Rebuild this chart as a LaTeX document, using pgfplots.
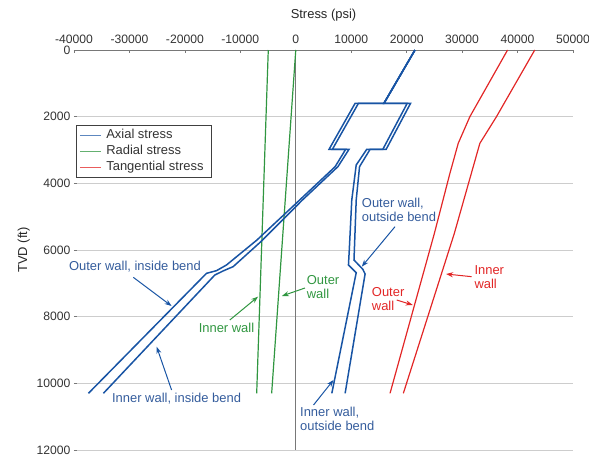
\documentclass[border=0pt]{standalone}
\usepackage{pgfplots}
\pgfplotsset{compat=1.18}
\usepackage{fontspec}
\setmainfont{Liberation Sans}
\usetikzlibrary{arrows.meta}

\definecolor{axblue}{RGB}{24,84,164}
\definecolor{txblue}{RGB}{52,92,156}
\definecolor{radgreen}{RGB}{48,150,64}
\definecolor{tangred}{RGB}{226,38,38}
\definecolor{axisgray}{RGB}{120,120,120}
\definecolor{gridgray}{RGB}{205,205,205}

\newcommand{\lbl}{\fontsize{13}{14}\selectfont}
\newcommand{\tck}{\fontsize{12.2}{14}\selectfont}

\begin{document}
\begin{tikzpicture}
\begin{axis}[
    scale only axis,
    width=499bp, height=400bp,
    xmin=-40000, xmax=50000,
    ymin=0, ymax=12000,
    y dir=reverse,
    clip=false,
    xtick={-40000,-30000,-20000,-10000,0,10000,20000,30000,40000,50000},
    ytick={0,2000,4000,6000,8000,10000,12000},
    scaled x ticks=false, scaled y ticks=false,
    /pgf/number format/1000 sep={},
    /pgf/number format/assume math mode=true,
    xticklabel pos=right, xtick pos=right, ytick pos=left,
    axis line style={draw=none},
    ymajorgrids,
    grid style={gridgray, line width=0.6bp},
    major tick length=3bp,
    tick style={axisgray, line width=0.6bp},
    tick label style={font=\tck, text=black!80},
    xticklabel style={yshift=3bp},
    xlabel={Stress (psi)}, ylabel={TVD (ft)},
    label style={font=\lbl, text=black!85},
    xlabel style={yshift=7bp},
    legend style={at={(axis cs:-39600,2250)}, anchor=north west,
        draw=black!75, line width=0.6bp, font=\lbl, text=black!80,
        inner xsep=3bp, inner ysep=2.5bp, row sep=1.5bp,
        nodes={text height=9.5bp, text depth=3bp, inner ysep=1bp, inner xsep=5bp}},
    legend cell align=left,
    legend image code/.code={\draw[#1, line width=0.8bp] (0bp,0bp) -- (21bp,0bp);},
]

\draw[axisgray, line width=0.7bp] (axis cs:-40000,0) -- (axis cs:50000,0);
\draw[axisgray, line width=0.7bp] (axis cs:0,0) -- (axis cs:0,12000);

\addlegendimage{axblue!70}
\addlegendentry{Axial stress}
\addlegendimage{radgreen!75}
\addlegendentry{Radial stress}
\addlegendimage{tangred!75}
\addlegendentry{Tangential stress}

% radial stress
\addplot[forget plot, radgreen, line width=1.2bp] coordinates {(-4960,0) (-7050,10300)};
\addplot[forget plot, radgreen, line width=1.2bp] coordinates {(0,0) (-4350,10300)};

% tangential stress
\addplot[forget plot, tangred, line width=1.2bp] coordinates {
(38200,0) (31400,2000) (29300,2800) (27800,3700) (25000,5500) (17000,10300)};
\addplot[forget plot, tangred, line width=1.2bp] coordinates {
(43100,0) (36200,2000) (33200,2800) (28600,5500) (19400,10300)};

% axial stress: outer wall, inside bend
\addplot[forget plot, axblue, line width=1.5bp] coordinates {
(21500,0) (15900,1600) (10700,1600) (6000,2980) (9000,2980) (7100,3500)
(700,4500) (-7000,5700) (-12500,6450) (-14300,6620) (-16100,6700) (-37400,10300)};
% inner wall, inside bend
\addplot[forget plot, axblue, line width=1.5bp] coordinates {
(21500,0) (15900,1600) (11300,1600) (6600,2980) (9600,2980) (7600,3500)
(1200,4500) (-6300,5750) (-11300,6500) (-13000,6620) (-14600,6750) (-34700,10300)};
% inner wall, outside bend
\addplot[forget plot, axblue, line width=1.5bp] coordinates {
(21500,0) (15900,1600) (20100,1600) (15700,2980) (12800,2980) (10900,3450)
(10100,4500) (9650,6000) (9500,6450) (10900,6680) (6500,10300)};
% outer wall, outside bend
\addplot[forget plot, axblue, line width=1.5bp] coordinates {
(21500,0) (15900,1600) (20700,1600) (16300,2980) (13400,2980) (11500,3500)
(10900,4500) (10500,6300) (12100,6580) (12500,6720) (8900,10300)};

% annotations
\tikzset{ann/.style={-{Stealth[length=7bp,width=5bp]}, line width=1bp}}
\node[txblue, font=\lbl, inner sep=0] at (axis cs:-29000,6500) {Outer wall, inside bend};
\draw[ann, axblue] (axis cs:-29300,6820) -- (axis cs:-22400,7680);
\node[txblue, font=\lbl, inner sep=0] at (axis cs:-21500,10450) {Inner wall, inside bend};
\draw[ann, axblue] (axis cs:-22400,10200) -- (axis cs:-25100,8900);
\node[radgreen, font=\lbl, inner sep=0] at (axis cs:-12500,8350) {Inner wall};
\draw[ann, radgreen] (axis cs:-11900,8100) -- (axis cs:-6800,7400);
\node[radgreen, font=\lbl, inner sep=0, anchor=west, align=left] at (axis cs:1970,7120) {Outer\\wall};
\draw[ann, radgreen] (axis cs:1660,7140) -- (axis cs:-2500,7380);
\node[txblue, font=\lbl, inner sep=0, anchor=west, align=left] at (axis cs:11900,4800) {Outer wall,\\outside bend};
\draw[ann, axblue] (axis cs:17900,5300) -- (axis cs:11900,6500);
\node[txblue, font=\lbl, inner sep=0, anchor=west, align=left] at (axis cs:760,11065) {Inner wall,\\outside bend};
\draw[ann, axblue] (axis cs:3200,10650) -- (axis cs:6800,9900);
\node[tangred, font=\lbl, inner sep=0, anchor=west, align=left] at (axis cs:13700,7465) {Outer\\wall};
\draw[ann, tangred] (axis cs:18200,7500) -- (axis cs:21100,7650);
\node[tangred, font=\lbl, inner sep=0, anchor=west, align=left] at (axis cs:32200,6810) {Inner\\wall};
\draw[ann, tangred] (axis cs:31700,6800) -- (axis cs:27100,6720);

\coordinate (bl) at (axis cs:-40000,12000);
\coordinate (tr) at (axis cs:50000,0);
\end{axis}
\pgfresetboundingbox
\path ([shift={(-74bp,-9bp)}]bl) rectangle ([shift={(16bp,50bp)}]tr);
\end{tikzpicture}
\end{document}
